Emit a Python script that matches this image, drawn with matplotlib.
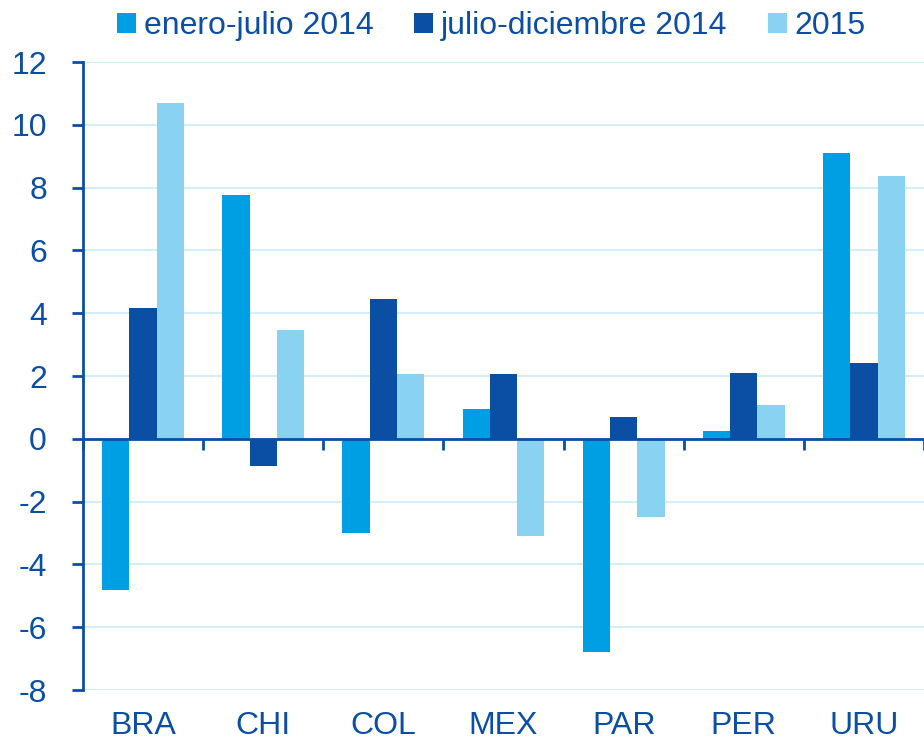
import matplotlib
matplotlib.use("Agg")
import matplotlib.pyplot as plt
import numpy as np
from matplotlib.patches import Patch

categories = ["BRA", "CHI", "COL", "MEX", "PAR", "PER", "URU"]
series_names = ["enero-julio 2014", "julio-diciembre 2014", "2015"]
enero_julio_2014 = [-4.8, 7.75, -3.0, 0.95, -6.8, 0.25, 9.1]
julio_diciembre_2014 = [4.15, -0.88, 4.45, 2.05, 0.68, 2.08, 2.42]
y2015 = [10.7, 3.47, 2.05, -3.1, -2.5, 1.07, 8.38]
y_ticks = [-8, -6, -4, -2, 0, 2, 4, 6, 8, 10, 12]

colors = ["#009FE3", "#0A4FA3", "#8AD2F2"]
text_color = "#0B4EA6"
grid_color = "#D2EEF9"

plt.rcParams['font.family'] = ['Liberation Sans', 'DejaVu Sans']

fig = plt.figure(figsize=(9.24, 7.41), dpi=100)
ax = fig.add_axes([83/924, 1 - 690/741, (924 - 83)/924, (690 - 62)/741])

x = np.arange(len(categories))
w = 0.227
for i, (vals, c) in enumerate(zip([enero_julio_2014, julio_diciembre_2014, y2015], colors)):
    ax.bar(x + (i - 1) * w, vals, width=w, color=c, zorder=2, linewidth=0)

ax.set_ylim(-8, 12)
ax.set_xlim(-0.5, 6.44)
ax.set_yticks(y_ticks)
ax.set_yticklabels([str(v) for v in y_ticks])
ax.yaxis.grid(True, color=grid_color, linewidth=1.5, zorder=0)
ax.set_axisbelow(True)

for s in ["top", "right"]:
    ax.spines[s].set_visible(False)
ax.spines["bottom"].set_position(("data", 0))
ax.spines["bottom"].set_color(text_color)
ax.spines["bottom"].set_linewidth(2)
ax.spines["bottom"].set_zorder(3)
ax.spines["left"].set_color(text_color)
ax.spines["left"].set_linewidth(2)

ax.tick_params(axis="y", colors=text_color, labelsize=23, length=8, width=2, pad=18, direction="out")
ax.set_xticks(np.arange(len(categories) + 1) - 0.5)
ax.set_xticklabels([])
ax.tick_params(axis="x", colors=text_color, length=8, width=2, direction="out")

sec = ax.secondary_xaxis(location=0)
sec.set_xticks(x)
sec.set_xticklabels(categories)
sec.tick_params(axis="x", length=0, labelsize=23, colors=text_color, pad=15)
sec.spines["bottom"].set_visible(False)

handles = [Patch(facecolor=c, edgecolor="none") for c in colors]
leg = fig.legend(handles, series_names, loc="center", bbox_to_anchor=(0.532, 0.965),
                 ncol=3, frameon=False, fontsize=23, handlelength=0.6, handleheight=0.6,
                 handletextpad=0.25, columnspacing=1.25, labelcolor=text_color)

fig.savefig("out.png", dpi=100)
